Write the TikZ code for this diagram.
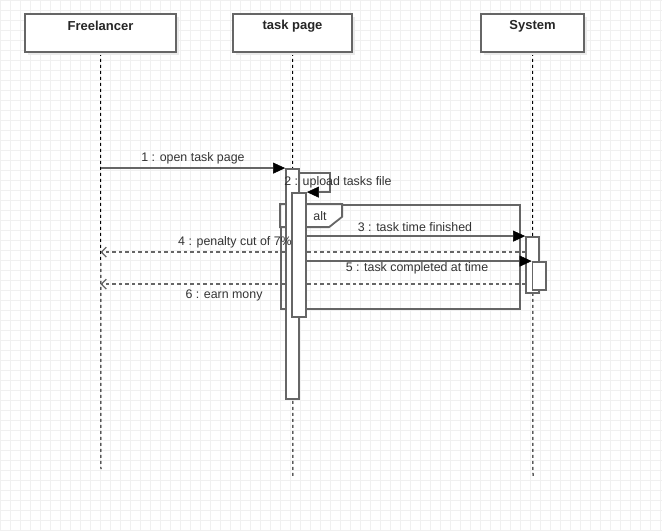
\documentclass[tikz,border=0pt]{standalone}
\usepackage{fontspec}
\setmainfont{Liberation Sans}
\usetikzlibrary{arrows.meta,shadows,backgrounds,calc}
\definecolor{edge}{HTML}{666666}
\definecolor{ink}{HTML}{333333}
\definecolor{gridc}{HTML}{F0F0F0}
\begin{document}
\begin{tikzpicture}[x=1pt,y=-1pt,
  every node/.style={font=\fontsize{12.4}{14}\selectfont},
  header/.style={draw=edge, line width=1.8pt, fill=white, inner sep=0pt,
    minimum height=38pt,
    drop shadow={shadow xshift=3pt, shadow yshift=-3pt, fill=black!8, opacity=1}},
  title/.style={font=\fontsize{13}{15}\selectfont\bfseries, text=black!85},
  lifeline/.style={black, line width=1pt, dash pattern=on 3pt off 3pt},
  actbox/.style={draw=edge, line width=1.8pt, fill=white, inner sep=0pt, minimum width=13pt},
  frame/.style={draw=edge, line width=1.8pt, inner sep=0pt},
  msg/.style={draw=edge, line width=1.8pt,
    -{Triangle[length=12pt,width=11pt,color=black,fill=black,line width=0.5pt]}},
  reply/.style={draw=edge, line width=1.5pt, dash pattern=on 3.5pt off 3pt,
    -{Straight Barb[length=5pt,width=10pt,line width=1.2pt]}},
  lbl/.style={text=ink, inner sep=0pt}]
\useasboundingbox (0,0) rectangle (662,531);

% participants
\node[header, minimum width=151pt] (fl) at (100.5,33) {};
\node[header, minimum width=119pt] (tp) at (292.5,33) {};
\node[header, minimum width=103pt] (sy) at (532.5,33) {};
\node[title] (flt) at (100.5,26) {Freelancer};
\node[title] (tpt) at (292.5,26) {task page};
\node[title] (syt) at (532.5,26) {System};

% activation bars
\node[actbox, minimum height=230pt] (A1) at (292.5,284) {};
\node[actbox, minimum height=124pt, minimum width=14pt] (A2) at (299,255) {};
\node[actbox, minimum height=56pt] (S1) at (532.5,265) {};
\node[actbox, minimum height=28pt, minimum width=13.5pt] (S2) at (539.25,276) {};

% reply start points on the System bars
\coordinate (r4) at ([yshift=-16pt]S1.north west);
\coordinate (r6) at ([yshift=-23pt]S2.north west);

\begin{pgfonlayer}{background}
  \fill[white] (0,0) rectangle (662,531);
  \draw[gridc, line width=0.6pt] (0,0) grid[step=10pt] (662,531);
  % lifelines
  \coordinate (flend) at (101,469);
  \coordinate (tpend) at (293,478);
  \coordinate (syend) at (533,477);
  \draw[lifeline] (fl.south) -- (flend);
  \draw[lifeline] (tp.south) -- (tpend);
  \draw[lifeline] (sy.south) -- (syend);
  % alt fragment
  \node[frame, minimum width=239pt, minimum height=104pt] (alt) at (400.5,257) {};
  \draw[frame, fill=white] (alt.north west) -- ++(62,0) -- ++(0,12.7) -- ++(-13,10.3)
    -- ($(alt.north west)+(0,23)$) -- cycle;
  % replies
  \draw[reply] (r4) -- (fl.south |- r4);
  \draw[reply] (r6) -- (fl.south |- r6);
\end{pgfonlayer}

% calls
\draw[msg] (fl.south |- A1.north west) -- (A1.north west);
\draw[msg] ([yshift=-5pt]A1.north east) -- ++(30,0) |- (A2.north east);
\draw[msg] (A2.east |- S1.north west) -- (S1.north west);
\draw[msg] (A2.east |- S2.north west) -- (S2.north west);

% labels
\node[lbl] (altl) at (320,216) {alt};
\node[lbl] (m1) at (193,158) {1 : open task page};
\node[lbl] (m2) at (338,182) {2 : upload tasks file};
\node[lbl] (m3) at (415,227) {3 : task time finished};
\node[lbl] (m4) at (235,242) {4 : penalty cut of 7\%};
\node[lbl] (m5) at (417,268) {5 : task completed at time};
\node[lbl] (m6) at (224,295) {6 : earn mony};
\end{tikzpicture}
\end{document}
